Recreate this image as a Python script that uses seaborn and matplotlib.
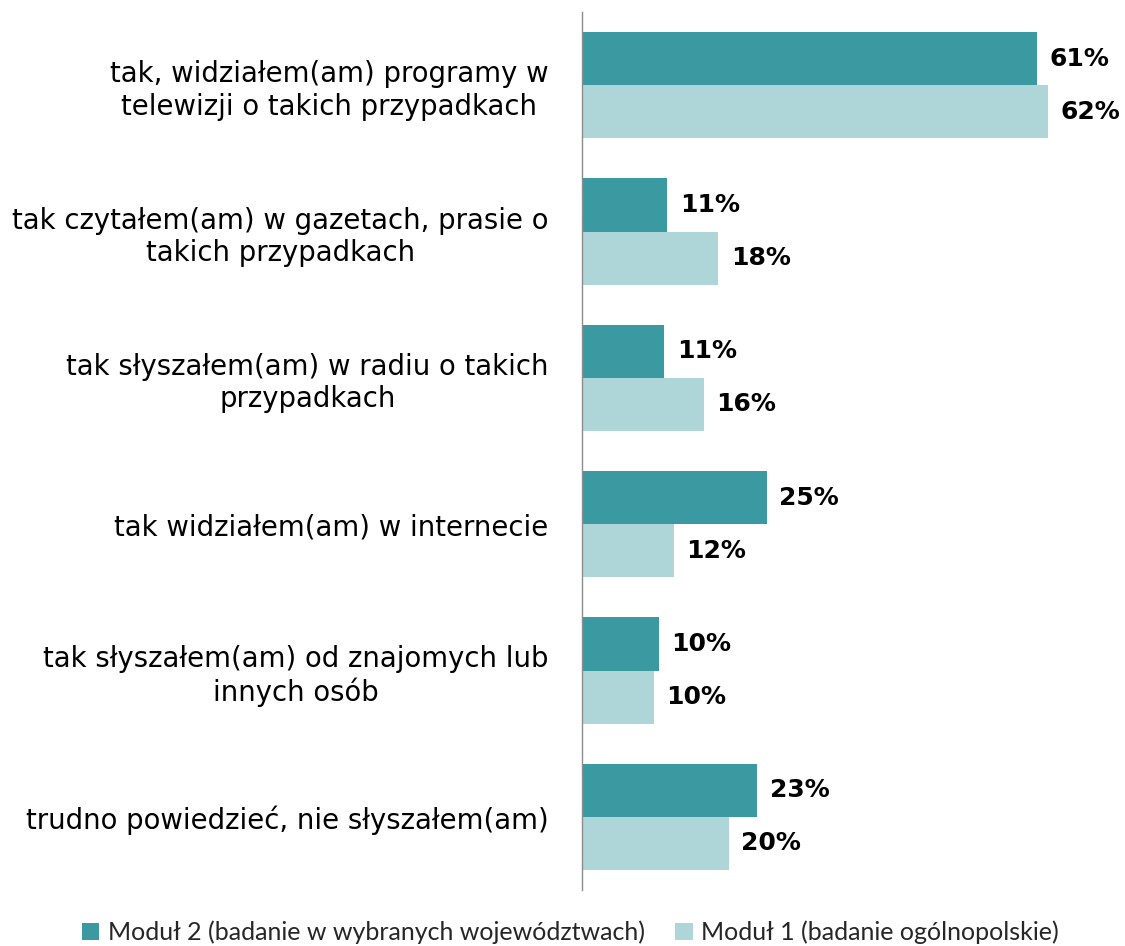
import seaborn as sns
import matplotlib.pyplot as plt
import pandas as pd

categories = [
    "tak, widziałem(am) programy w\ntelewizji o takich przypadkach",
    "tak czytałem(am) w gazetach, prasie o\ntakich przypadkach",
    "tak słyszałem(am) w radiu o takich\nprzypadkach",
    "tak widziałem(am) w internecie",
    "tak słyszałem(am) od znajomych lub\ninnych osób",
    "trudno powiedzieć, nie słyszałem(am)",
]
series = ["Moduł 2 (badanie w wybranych województwach)", "Moduł 1 (badanie ogólnopolskie)"]
modul2 = [60.8, 11.4, 11.0, 24.7, 10.3, 23.4]
modul1 = [62.3, 18.2, 16.3, 12.3, 9.6, 19.6]
modul2_labels = ["61%", "11%", "11%", "25%", "10%", "23%"]
modul1_labels = ["62%", "18%", "16%", "12%", "10%", "20%"]
colors = ["#3a99a1", "#aed6d8"]

df = pd.DataFrame({
    "kategoria": categories * 2,
    "seria": [series[0]] * 6 + [series[1]] * 6,
    "wartosc": modul2 + modul1,
})

sns.set_style("white")
plt.rcParams['font.family'] = ['DejaVu Sans']

fig = plt.figure(figsize=(11.25, 9.46), dpi=100)
ax = fig.add_axes([582 / 1125, 56 / 946, 523.6 / 1125, 878 / 946])
sns.barplot(data=df, x="wartosc", y="kategoria", hue="seria", palette=colors,
            orient="h", width=0.725, gap=0, ax=ax, legend=True, saturation=1,
            linewidth=0)

ax.set_xlim(0, 70)
ax.set_ylim(5.5, -0.5)
ax.set_xlabel("")
ax.set_ylabel("")
ax.set_xticks([])
ax.tick_params(axis="y", length=0, pad=24, labelsize=19.8)
for lbl in ax.get_yticklabels():
    lbl.set_color("black")
    lbl.set_multialignment("center")
    lbl.set_linespacing(1.2)
for s in ["top", "right", "bottom"]:
    ax.spines[s].set_visible(False)
ax.spines["left"].set_color("#8c8c8c")
ax.spines["left"].set_linewidth(1)

for cont, labs in zip(ax.containers, [modul2_labels, modul1_labels]):
    ax.bar_label(cont, labels=labs, padding=9, fontsize=18, fontweight="bold", color="black")

handles, labels = ax.get_legend_handles_labels()
ax.get_legend().remove()
fig.legend(handles, labels, loc="lower center", bbox_to_anchor=(0.507, -0.022), ncol=2,
           frameon=False, handlelength=0.7, handleheight=0.7, handletextpad=0.35,
           columnspacing=1.2, prop={"family": "Lato", "size": 18})

fig.savefig("out.png", dpi=100)
